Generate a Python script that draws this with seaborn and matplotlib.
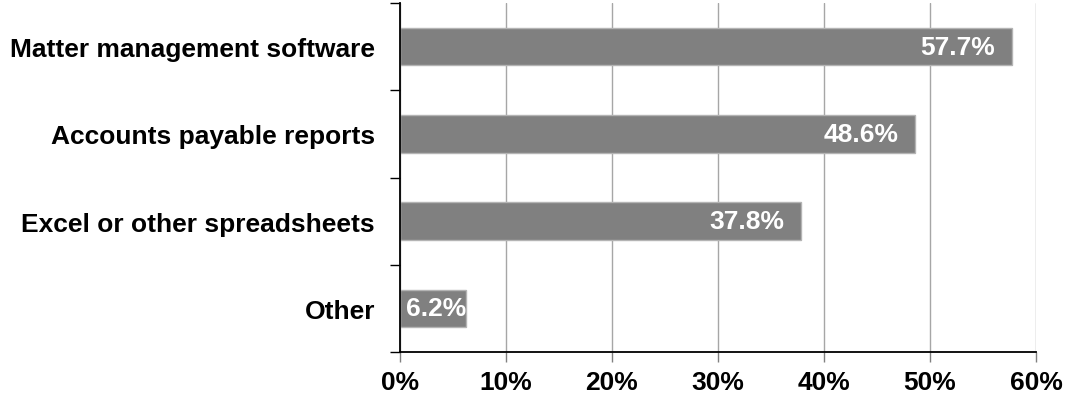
import matplotlib
matplotlib.use("Agg")
import matplotlib.pyplot as plt
from matplotlib.ticker import FixedLocator, PercentFormatter
import seaborn as sns
import pandas as pd

# Survey responses: tools used to track legal spend
categories = [
    "Matter management software",
    "Accounts payable reports",
    "Excel or other spreadsheets",
    "Other",
]
shares = [57.7, 48.6, 37.8, 6.2]
x_ticks = [0, 10, 20, 30, 40, 50, 60]

sns.set_theme(style="white")
plt.rcParams["font.family"] = ["Liberation Sans", "DejaVu Sans"]
plt.rcParams["font.weight"] = "bold"

df = pd.DataFrame({"category": categories, "share": shares})

fig = plt.figure(figsize=(10.66, 4.02), dpi=100)
ax = fig.add_axes([400 / 1066, 1 - 353 / 402, 636 / 1066, 349 / 402])

sns.barplot(
    data=df, x="share", y="category", orient="h", ax=ax,
    color="#808080", saturation=1, width=0.43,
    edgecolor="#b4b4b4", linewidth=1, zorder=3,
)

ax.set_xlim(0, 60)
ax.set_ylim(len(categories) - 0.5, -0.5)
ax.set_xlabel("")
ax.set_ylabel("")

# x axis: percent ticks with vertical gridlines
ax.set_xticks(x_ticks)
ax.xaxis.set_major_formatter(PercentFormatter(decimals=0))
ax.tick_params(axis="x", which="major", direction="out", length=7, width=1,
               color="#808080", pad=6, labelsize=19, labelcolor="black",
               bottom=True)
for lbl in ax.get_xticklabels():
    lbl.set_fontweight("bold")
ax.grid(axis="x", color="#a6a6a6", linewidth=1, zorder=0)
ax.grid(axis="y", visible=False)

# y axis: tick marks between categories, labels centred on bars
n = len(categories)
ax.yaxis.set_major_locator(FixedLocator([i - 0.5 for i in range(n + 1)]))
ax.yaxis.set_minor_locator(FixedLocator(list(range(n))))
ax.set_yticklabels([""] * (n + 1))
ax.set_yticklabels(categories, minor=True)
ax.tick_params(axis="y", which="major", direction="out", length=7, width=1,
               color="black", left=True)
ax.tick_params(axis="y", which="minor", length=0, pad=18, labelsize=19,
               labelcolor="black", left=True)
for lbl in ax.get_yticklabels(minor=True):
    lbl.set_fontweight("bold")

for side in ("top", "right"):
    ax.spines[side].set_visible(False)
ax.spines["left"].set_color("black")
ax.spines["left"].set_linewidth(1.3)
ax.spines["bottom"].set_color("black")
ax.spines["bottom"].set_linewidth(1.3)
ax.spines["left"].set_zorder(5)
ax.spines["bottom"].set_zorder(5)

# value labels inside bars
for i, v in enumerate(shares):
    if v >= 15:
        ax.annotate(f"{v:.1f}%", xy=(v, i), xytext=(-12, 0),
                    textcoords="offset points", ha="right", va="center",
                    color="white", fontsize=19, fontweight="bold", zorder=6)
    else:
        ax.annotate(f"{v:.1f}%", xy=(0, i), xytext=(4, 0),
                    textcoords="offset points", ha="left", va="center",
                    color="white", fontsize=19, fontweight="bold", zorder=6)

fig.savefig("out.png", dpi=100, facecolor="white")
